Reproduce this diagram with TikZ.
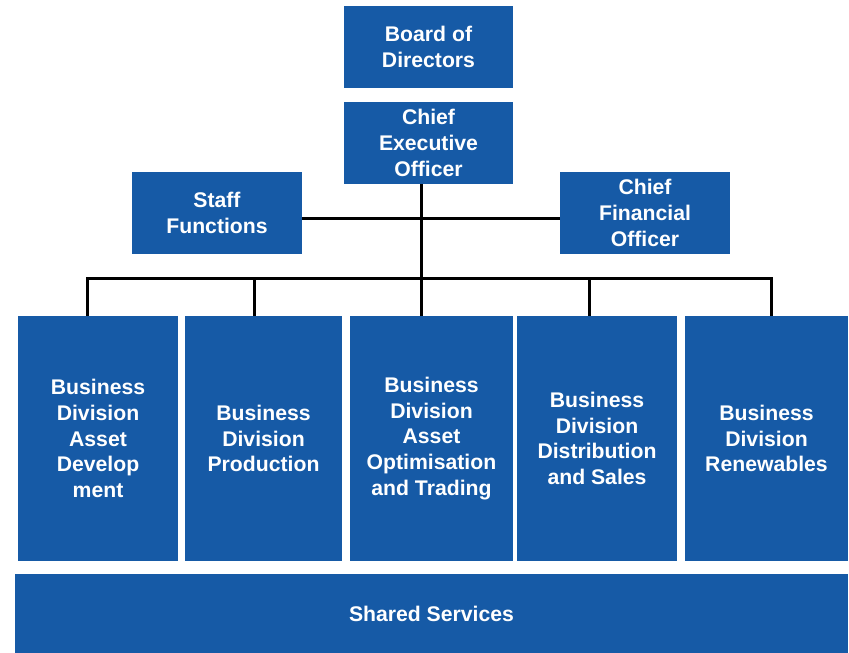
\documentclass[tikz,border=0pt]{standalone}
\usepackage{fontspec}
\setmainfont{Liberation Sans}
\definecolor{boxblue}{RGB}{22,90,166}
\begin{document}
\begin{tikzpicture}[x=1pt,y=-1pt,
  box/.style={fill=boxblue, draw=none, text=white, align=center, inner sep=0pt,
    font=\bfseries\fontsize{21.2}{25.7}\selectfont},
  conn/.style={draw=black, line width=3pt}]
\useasboundingbox (0,0) rectangle (849,653);
\node[box, minimum width=169pt, minimum height=82pt] (board) at (428.5,47) {Board of\\Directors};
\node[box, minimum width=169pt, minimum height=82pt] (ceo) at (428.5,143) {Chief\\Executive\\Officer};
\node[box, minimum width=170pt, minimum height=82pt] (staff) at (217,213) {Staff\\Functions};
\node[box, minimum width=170pt, minimum height=82pt] (cfo) at (645,213) {Chief\\Financial\\Officer};
\node[box, minimum width=160pt, minimum height=245pt] (b1) at (98,438.5) {Business\\Division\\Asset\\Develop\\ment};
\node[box, minimum width=157pt, minimum height=245pt] (b2) at (263.5,438.5) {Business\\Division\\Production};
\node[box, minimum width=163pt, minimum height=245pt] (b3) at (431.5,438.5) {Business\\Division\\Asset\\Optimisation\\and Trading};
\node[box, minimum width=160pt, minimum height=245pt] (b4) at (597,438.5) {Business\\Division\\Distribution\\and Sales};
\node[box, minimum width=163pt, minimum height=245pt] (b5) at (766.5,438.5) {Business\\Division\\Renewables};
\node[box, minimum width=833pt, minimum height=79pt] (shared) at (431.5,613.5) {Shared Services};
\coordinate (hub) at (421,278);
\coordinate (mid) at (421,218);
\coordinate (d1) at (87,278);
\coordinate (d2) at (254.5,278);
\coordinate (d4) at (589,278);
\coordinate (d5) at (771,278);
\draw[conn] (staff.east |- mid) -- (cfo.west |- mid);
\draw[conn] (ceo.south -| hub) -- (hub);
\draw[conn, line cap=rect] (d1) -- (d5);
\draw[conn] (d1) -- (d1 |- b1.north);
\draw[conn] (d2) -- (d2 |- b2.north);
\draw[conn] (hub) -- (hub |- b3.north);
\draw[conn] (d4) -- (d4 |- b4.north);
\draw[conn] (d5) -- (d5 |- b5.north);
\end{tikzpicture}
\end{document}
